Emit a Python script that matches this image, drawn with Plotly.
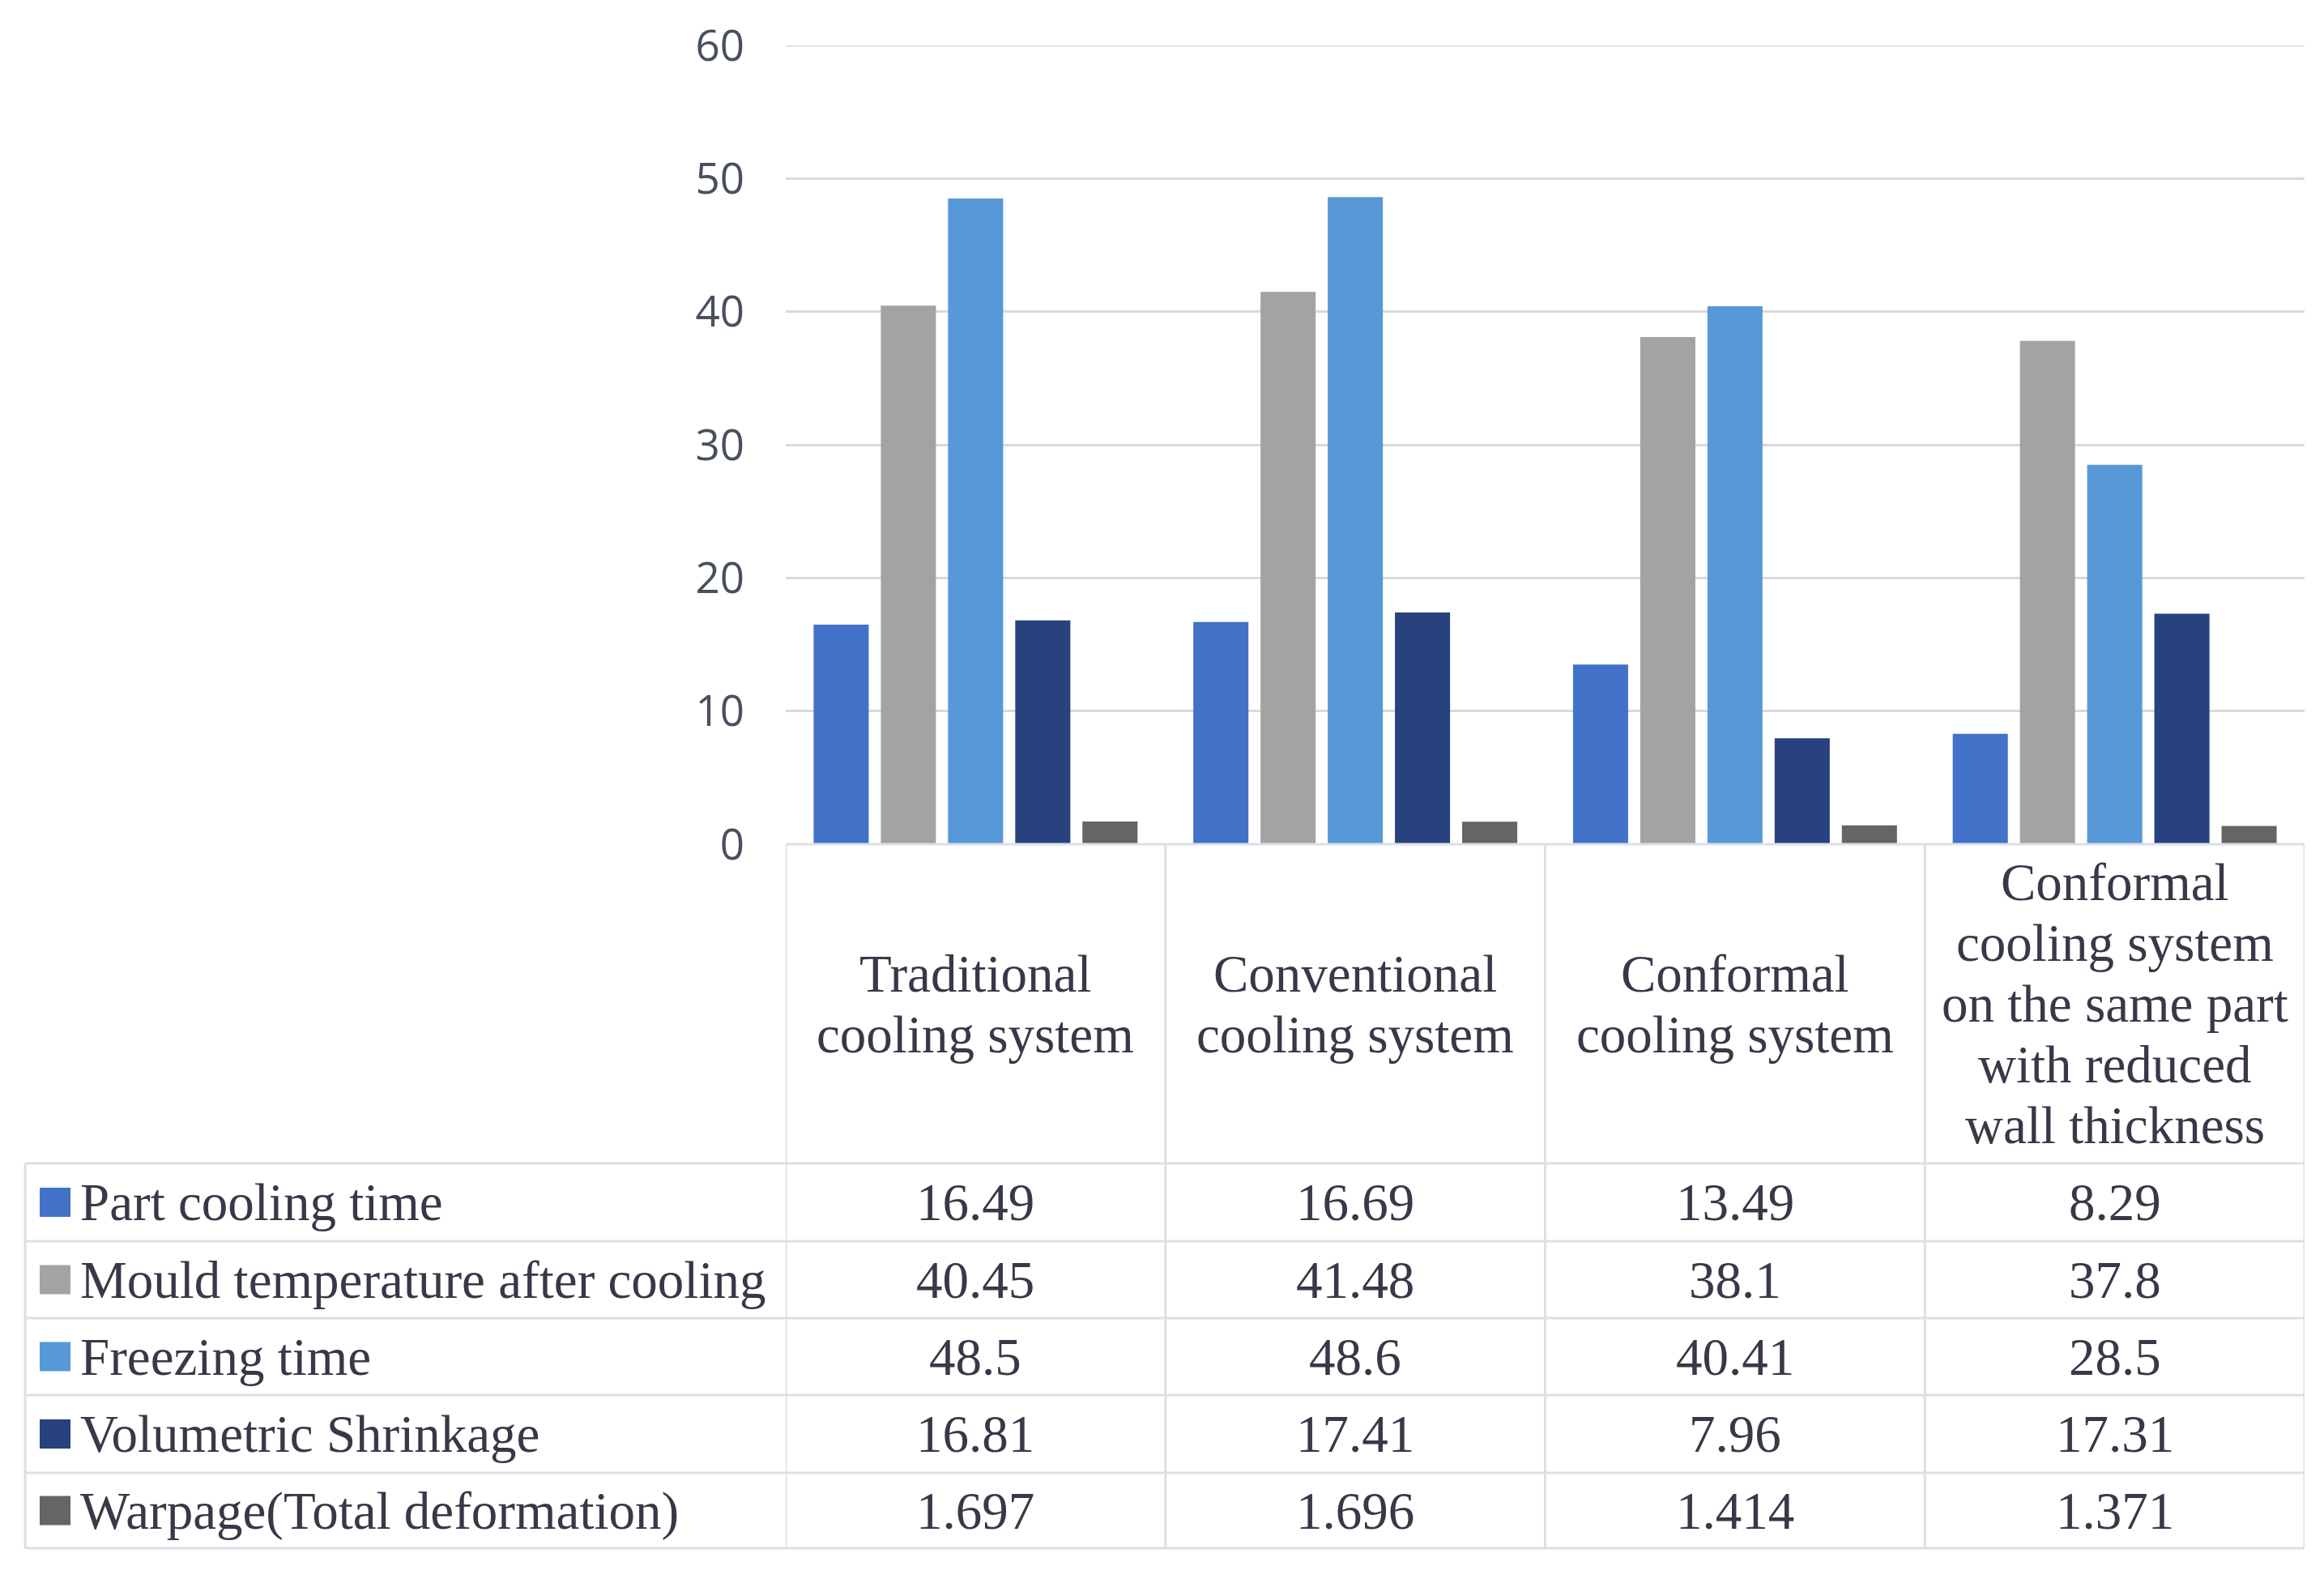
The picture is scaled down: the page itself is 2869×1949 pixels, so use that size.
import plotly.graph_objects as go

# ---------------- data ----------------
categories = [
    "Traditional<br>cooling system",
    "Conventional<br>cooling system",
    "Conformal<br>cooling system",
    "Conformal<br>cooling system<br>on the same part<br>with reduced<br>wall thickness",
]
series_names = [
    "Part cooling time",
    "Mould temperature after cooling",
    "Freezing time",
    "Volumetric Shrinkage",
    "Warpage(Total deformation)",
]
part_cooling_time = [16.49, 16.69, 13.49, 8.29]
mould_temperature = [40.45, 41.48, 38.1, 37.8]
freezing_time = [48.5, 48.6, 40.41, 28.5]
volumetric_shrinkage = [16.81, 17.41, 7.96, 17.31]
warpage = [1.697, 1.696, 1.414, 1.371]
y_ticks = [0, 10, 20, 30, 40, 50, 60]

series_values = [part_cooling_time, mould_temperature, freezing_time,
                 volumetric_shrinkage, warpage]
colors = ["#4272C8", "#A3A3A3", "#5699D6", "#27427C", "#656565"]

# ---------------- layout helpers ----------------
W, H = 2869, 1949
OFF = 8  # page body margin
def px(x):
    return (x - OFF) / W
def py(y):
    return 1 - (y - OFF) / H

plot_left, plot_right = 970, 2845
y0_px, y60_px = 1042, 56
header_bottom = 1436
row_lines = [1436, 1532, 1627, 1722, 1818, 1911]
table_left = 31
line_col = "#DCDFE5"
grid_col = "#D9D9D9"
text_col = "#383848"
serif = "Liberation Serif"
fs = 65

fig = go.Figure()
xs = list(range(len(categories)))
for name, vals, c in zip(series_names, series_values, colors):
    fig.add_trace(go.Bar(x=xs, y=vals, name=name, marker=dict(color=c, line=dict(width=0))))

shapes = []
# top gridline (at the range edge, not drawn by the axis itself)
shapes.append(dict(type="line", xref="paper", yref="y",
                   x0=px(plot_left), x1=px(plot_right), y0=y_ticks[-1], y1=y_ticks[-1],
                   line=dict(color=grid_col, width=3), layer="below"))
shapes.append(dict(type="line", xref="paper", yref="paper",
                   x0=px(plot_left), x1=px(plot_right), y0=py(y0_px), y1=py(y0_px),
                   line=dict(color=line_col, width=3)))
for r in row_lines:
    shapes.append(dict(type="line", xref="paper", yref="paper",
                       x0=px(table_left), x1=px(plot_right), y0=py(r), y1=py(r),
                       line=dict(color=line_col, width=3)))
for i in range(len(categories) + 1):
    shapes.append(dict(type="line", xref="x", yref="paper",
                       x0=i - 0.5, x1=i - 0.5, y0=py(y0_px), y1=py(row_lines[-1]),
                       line=dict(color=line_col, width=3)))
shapes.append(dict(type="line", xref="paper", yref="paper",
                   x0=px(table_left), x1=px(table_left), y0=py(row_lines[0]), y1=py(row_lines[-1]),
                   line=dict(color=line_col, width=3)))

annotations = []
hdr_center = (y0_px + header_bottom) / 2
spacing = 75
for i, cat in enumerate(categories):
    parts = cat.split("<br>")
    n = len(parts)
    for k, t in enumerate(parts):
        yy = hdr_center + (k - (n - 1) / 2) * spacing
        annotations.append(dict(xref="x", yref="paper", x=i, y=py(yy), text=t,
                                showarrow=False, xanchor="center", yanchor="middle",
                                font=dict(family=serif, size=fs, color=text_col)))
for j, (name, vals, c) in enumerate(zip(series_names, series_values, colors)):
    cy = (row_lines[j] + row_lines[j + 1]) / 2
    shapes.append(dict(type="rect", xref="paper", yref="paper",
                       x0=px(49), x1=px(87), y0=py(cy - 18), y1=py(cy + 18),
                       fillcolor=c, line=dict(width=0)))
    annotations.append(dict(xref="paper", yref="paper", x=px(97), y=py(cy), text=name,
                            showarrow=False, xanchor="left", yanchor="middle",
                            font=dict(family=serif, size=fs, color=text_col)))
    for i, v in enumerate(vals):
        annotations.append(dict(xref="x", yref="paper", x=i, y=py(cy), text=str(v),
                                showarrow=False, xanchor="center", yanchor="middle",
                                font=dict(family=serif, size=fs, color=text_col)))

fig.update_layout(
    width=W, height=H,
    margin=dict(l=0, r=0, t=0, b=0, autoexpand=False),
    paper_bgcolor="white", plot_bgcolor="white",
    barmode="group", bargap=0.115, bargroupgap=0.18,
    showlegend=False,
    shapes=shapes, annotations=annotations,
    xaxis=dict(domain=[px(plot_left), px(plot_right)], range=[-0.5, len(categories) - 0.5],
               showticklabels=False, showgrid=False, zeroline=False, showline=False,
               fixedrange=True, automargin=False),
    yaxis=dict(domain=[py(y0_px), py(y60_px)], range=[0, 60], tickvals=y_ticks,
               showgrid=True, gridcolor=grid_col, gridwidth=3, zeroline=False,
               showline=False, ticklabelstandoff=50, automargin=False,
               tickfont=dict(family="Open Sans", size=53, color="#48505E")),
)

fig.write_html("out.html")
